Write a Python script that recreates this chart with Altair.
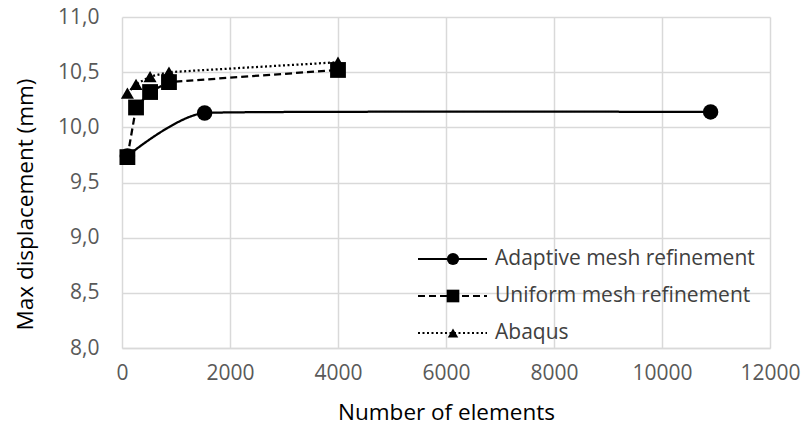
import altair as alt
import pandas as pd

# Mesh convergence study: max displacement vs. number of elements
adaptive_elements = [100, 1530, 10900]
adaptive_disp = [9.74, 10.13, 10.14]

uniform_elements = [100, 260, 520, 870, 4000]
uniform_disp = [9.73, 10.18, 10.32, 10.41, 10.52]

abaqus_elements = [100, 260, 520, 870, 4000]
abaqus_disp = [10.31, 10.39, 10.46, 10.50, 10.59]

series_names = ["Adaptive mesh refinement", "Uniform mesh refinement", "Abaqus"]
x_ticks = [0, 2000, 4000, 6000, 8000, 10000, 12000]
y_ticks = [8.0, 8.5, 9.0, 9.5, 10.0, 10.5, 11.0]

FONT = "Open Sans"
GRID = "#d9d9d9"

x_enc = alt.X(
    "n:Q",
    scale=alt.Scale(domain=[0, 12000], nice=False, zero=False),
    axis=alt.Axis(
        values=x_ticks, format="d", title="Number of elements",
        grid=True, gridColor=GRID, gridWidth=1.5,
        domainColor=GRID, domainWidth=1.5, ticks=False,
        labelColor="#595959", labelFont=FONT, labelFontSize=21,
        labelPadding=14, labelFlush=False,
        titleFont=FONT, titleFontSize=22.5, titleFontWeight="normal",
        titleColor="#000000", titleX=324, titleY=71,
        titleBaseline="alphabetic", titleAlign="center",
    ),
)
y_enc = alt.Y(
    "d:Q",
    scale=alt.Scale(domain=[8, 11], nice=False, zero=False),
    axis=alt.Axis(
        values=y_ticks, title="Max displacement (mm)",
        labelExpr="replace(format(datum.value, '.1f'), '.', ',')",
        grid=True, gridColor=GRID, gridWidth=1.5,
        domain=False, ticks=False,
        labelColor="#595959", labelFont=FONT, labelFontSize=21,
        labelPadding=23, labelBaseline="middle",
        titleFont=FONT, titleFontSize=22.5, titleFontWeight="normal",
        titleColor="#000000", titleX=-97, titleY=187, titleAngle=-90,
        titleAlign="center", titleBaseline="middle",
    ),
)

styles = {
    "Adaptive mesh refinement": dict(shape="circle", size=240, dash=[1, 0], interp="cardinal", tension=0.72, lsize=150),
    "Uniform mesh refinement": dict(shape="square", size=250, dash=[7, 4], interp="linear", lsize=160),
    "Abaqus": dict(shape="triangle-up", size=170, dash=[2, 2.5], interp="linear", lsize=110),
}
series_data = {
    "Adaptive mesh refinement": (adaptive_elements, adaptive_disp),
    "Uniform mesh refinement": (uniform_elements, uniform_disp),
    "Abaqus": (abaqus_elements, abaqus_disp),
}


def series_layers(name):
    n, d = series_data[name]
    st = styles[name]
    df = pd.DataFrame({"n": n, "d": d})
    base = alt.Chart(df)
    line_props = dict(color="black", strokeWidth=2.25, strokeDash=st["dash"], interpolate=st["interp"])
    if "tension" in st:
        line_props["tension"] = st["tension"]
    line = base.mark_line(**line_props).encode(x=x_enc, y=y_enc)
    pts = base.mark_point(
        shape=st["shape"], filled=True, color="black", opacity=1, size=st["size"]
    ).encode(x=x_enc, y=y_enc)
    return [line, pts]


def legend_layers(name, row_y):
    st = styles[name]
    df = pd.DataFrame({"label": [name]})
    base = alt.Chart(df)
    rule = base.mark_rule(color="black", strokeWidth=2, strokeDash=st["dash"]).encode(
        x=alt.value(296), x2=alt.value(365), y=alt.value(row_y)
    )
    sym = base.mark_point(
        shape=st["shape"], filled=True, color="black", opacity=1, size=st["lsize"]
    ).encode(x=alt.value(331), y=alt.value(row_y))
    txt = base.mark_text(
        align="left", baseline="middle", font=FONT, fontSize=21, color="#404040"
    ).encode(x=alt.value(373), y=alt.value(row_y), text="label:N")
    return [rule, sym, txt]


layers = []
for nm in ["Abaqus", "Uniform mesh refinement", "Adaptive mesh refinement"]:
    layers += series_layers(nm)
for nm, ry in zip(series_names, [242, 279, 316]):
    layers += legend_layers(nm, ry)

chart = (
    alt.layer(*layers)
    .properties(
        width=648,
        height=331,
        autosize=alt.AutoSizeParams(type="none"),
        padding={"left": 122, "top": 17, "right": 31, "bottom": 80},
        background="white",
    )
    .configure_view(stroke=None)
)

chart.save("out.html", embed_options={"renderer": "svg", "actions": False})
